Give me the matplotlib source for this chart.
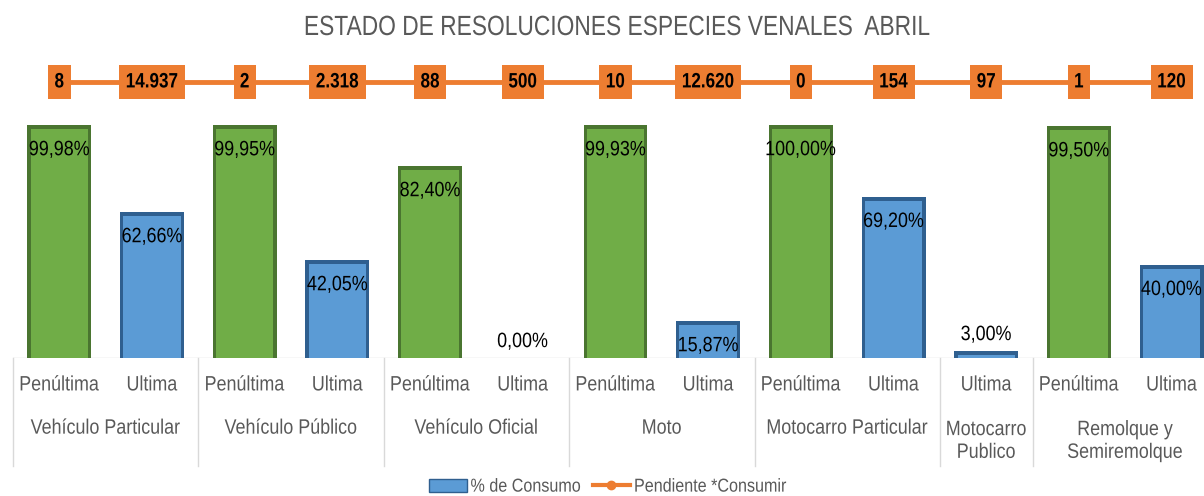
import matplotlib
matplotlib.use('Agg')
import matplotlib.pyplot as plt
from matplotlib.patches import Patch
from matplotlib.lines import Line2D
from matplotlib.patheffects import AbstractPathEffect
import matplotlib.transforms as mtransforms

plt.rcParams['font.family'] = ['Liberation Sans', 'DejaVu Sans']

# datos
periodo = ['Penúltima', 'Ultima', 'Penúltima', 'Ultima', 'Penúltima', 'Ultima',
           'Penúltima', 'Ultima', 'Penúltima', 'Ultima', 'Ultima', 'Penúltima', 'Ultima']
grupos = ['Vehículo Particular', 'Vehículo Público', 'Vehículo Oficial', 'Moto',
          'Motocarro Particular', 'Motocarro\nPublico', 'Remolque y\nSemiremolque']
grupo_n = [2, 2, 2, 2, 2, 1, 2]
consumo = [99.98, 62.66, 99.95, 42.05, 82.40, 0.00, 99.93, 15.87, 100.00, 69.20, 3.00, 99.50, 40.00]
pendiente = ['8', '14.937', '2', '2.318', '88', '500', '10', '12.620', '0', '154', '97', '1', '120']

VERDE, VERDE_OSC = '#70AD47', '#4A7530'
AZUL, AZUL_OSC = '#5B9BD5', '#2F5F8F'
NARANJA = '#ED7D31'
GRIS = '#595959'
LINE_LEVEL = 118.5


class Estrecho(AbstractPathEffect):
    """comprime el texto en horizontal (imita Arial Narrow)"""
    def __init__(self, s=0.85, anchor='center'):
        super().__init__()
        self.s = s
        self.anchor = anchor

    def draw_path(self, renderer, gc, tpath, affine, rgbFace=None):
        v = tpath.vertices
        if len(v) == 0:
            return
        cx = v[:, 0].min() if self.anchor == 'left' else (v[:, 0].min() + v[:, 0].max()) / 2
        aff = mtransforms.Affine2D().translate(-cx, 0).scale(self.s, 1).translate(cx, 0) + affine
        renderer.draw_path(gc, tpath, aff, rgbFace)


NARROW = [Estrecho(0.86)]

fig = plt.figure(figsize=(12.04, 4.96), dpi=100)
ax = fig.add_axes([13/1204, 0.278, 1205/1204, 0.601])
n = len(consumo)
x = list(range(n))

for i, v in enumerate(consumo):
    c, co = (VERDE, VERDE_OSC) if periodo[i] == 'Penúltima' else (AZUL, AZUL_OSC)
    ax.bar(i, v, width=0.69, color=co, zorder=2)
    # efecto bisel
    if v > 2:
        ax.bar(i, v - 1.6, width=0.62, color=c, zorder=3)
    else:
        ax.bar(i, v * 0.6, width=0.66, color=c, zorder=3)
    lbl = f'{v:.2f}%'.replace('.', ',')
    if v > 10:
        t = ax.text(i, v - 6.5, lbl, ha='center', va='top', fontsize=15, color='black', zorder=5)
    else:
        t = ax.text(i, v + 3, lbl, ha='center', va='bottom', fontsize=15, color='black', zorder=5)
    t.set_path_effects(NARROW)

ax.plot(x, [LINE_LEVEL] * n, color=NARANJA, lw=3.5, zorder=4)
for i, p in enumerate(pendiente):
    t = ax.text(i, LINE_LEVEL, p, ha='center', va='center', fontsize=15, fontweight='bold',
                color='black', zorder=6,
                bbox=dict(boxstyle='square,pad=0.36', facecolor=NARANJA, edgecolor='none'))
    t.set_path_effects([Estrecho(0.82)])
    t.get_bbox_patch().set_path_effects([Estrecho(0.84)])

ax.set_xlim(-0.5, n - 0.5)
ax.set_ylim(0, 127.9)
ax.axis('off')
ax.axhline(0, color='#D9D9D9', lw=1, zorder=1)

# etiquetas del eje x en dos niveles
trans = mtransforms.blended_transform_factory(ax.transData, ax.transAxes)
for i, p in enumerate(periodo):
    t = ax.text(i, -0.09, p, transform=trans, ha='center', va='center', fontsize=15, color=GRIS)
    t.set_path_effects(NARROW)
pos = -0.5
ax.plot([pos, pos], [0, -0.362], transform=trans, color='#D9D9D9', lw=1, clip_on=False)
for g, k in zip(grupos, grupo_n):
    centro = pos + k / 2
    yy = -0.235 if '\n' not in g else -0.278
    t = ax.text(centro, yy, g, transform=trans, ha='center', va='center', fontsize=15,
                color=GRIS, linespacing=1.25)
    t.set_path_effects(NARROW)
    pos += k
    ax.plot([pos, pos], [0, -0.362], transform=trans, color='#D9D9D9', lw=1, clip_on=False)

t = fig.text(0.512, 1 - 28/496, 'ESTADO DE RESOLUCIONES ESPECIES VENALES  ABRIL',
             ha='center', va='center', fontsize=20, color=GRIS)
t.set_path_effects([Estrecho(0.82)])

handles = [Patch(facecolor=AZUL, edgecolor=AZUL_OSC),
           Line2D([0], [0], color=NARANJA, lw=3, marker='o', markersize=6)]
leg = fig.legend(handles, ['% de Consumo', 'Pendiente *Consumir'], loc='center',
                 bbox_to_anchor=(0.515, 0.018), ncol=2, frameon=False, fontsize=13.5,
                 labelcolor=GRIS, handlelength=2.0, handletextpad=0.2, columnspacing=-0.3)
for t in leg.get_texts():
    t.set_path_effects([Estrecho(0.86, anchor='left')])

fig.savefig('out.png', dpi=100)
